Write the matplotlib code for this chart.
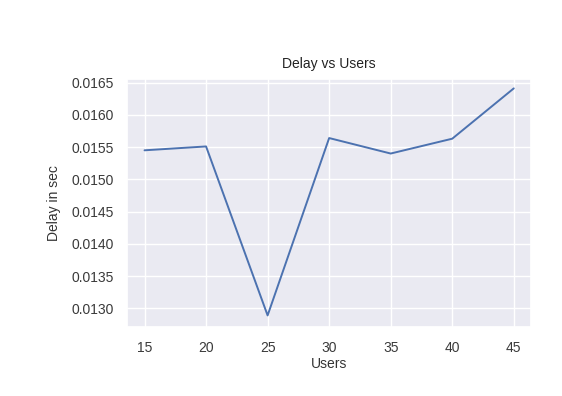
import matplotlib
matplotlib.use("Agg")
import matplotlib.pyplot as plt
import seaborn as sns

users = [15, 20, 25, 30, 35, 40, 45]
delay = [0.01545, 0.01551, 0.01289, 0.01564, 0.01540, 0.01563, 0.01641]
xticks = [15, 20, 25, 30, 35, 40, 45]
yticks = [0.0130, 0.0135, 0.0140, 0.0145, 0.0150, 0.0155, 0.0160, 0.0165]

sns.set_theme(style="darkgrid")
plt.rcParams['font.family'] = ['Liberation Sans', 'DejaVu Sans']

fig = plt.figure(figsize=(5.62, 3.96), dpi=100)
W, H = 562, 396
ax = fig.add_axes([127.3 / W, 1 - 326.7 / H, (531 - 127.3) / W, (326.7 - 79.3) / H])
ax.plot(users, delay, color="#4c72b0", linewidth=1.4)
ax.set_xticks(xticks)
ax.set_yticks(yticks)
ax.set_yticklabels([f"{v:.4f}" for v in yticks])
ax.set_ylim(0.012715, 0.016551)
ax.set_xlim(13.6, 46.4)
ax.tick_params(labelsize=10, colors="#3a3a3a", pad=4)
ax.set_xlabel("Users", fontsize=10, color="#333333", labelpad=2)
ax.set_ylabel("Delay in sec", fontsize=10, color="#333333", labelpad=7)
ax.set_title("Delay vs Users", fontsize=10, color="#222222", pad=8)
fig.savefig("out.png", dpi=100)
